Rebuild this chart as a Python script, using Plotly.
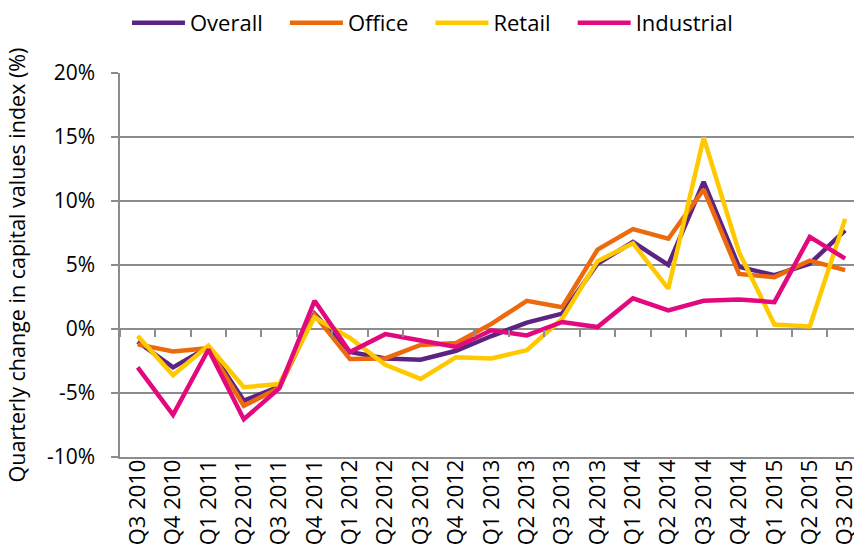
import plotly.graph_objects as go

quarters = ["Q3 2010", "Q4 2010", "Q1 2011", "Q2 2011", "Q3 2011", "Q4 2011",
            "Q1 2012", "Q2 2012", "Q3 2012", "Q4 2012", "Q1 2013", "Q2 2013",
            "Q3 2013", "Q4 2013", "Q1 2014", "Q2 2014", "Q3 2014", "Q4 2014",
            "Q1 2015", "Q2 2015", "Q3 2015"]

overall = [-1.0, -3.0, -1.4, -5.6, -4.5, 1.2, -1.8, -2.3, -2.4, -1.7, -0.55,
           0.5, 1.2, 5.1, 6.8, 5.0, 11.5, 4.85, 4.2, 5.1, 7.7]
office = [-1.2, -1.75, -1.5, -6.0, -4.6, 1.1, -2.35, -2.3, -1.25, -1.1, 0.4,
          2.2, 1.7, 6.2, 7.8, 7.05, 10.9, 4.3, 4.05, 5.35, 4.6]
retail = [-0.55, -3.6, -1.3, -4.55, -4.3, 0.9, -0.7, -2.8, -3.9, -2.2, -2.3,
          -1.65, 0.8, 5.3, 6.7, 3.15, 14.95, 6.0, 0.35, 0.2, 8.6]
industrial = [-3.0, -6.7, -1.6, -7.05, -4.65, 2.2, -1.8, -0.4, -0.9, -1.4, -0.1,
              -0.5, 0.55, 0.15, 2.4, 1.45, 2.2, 2.3, 2.1, 7.2, 5.5]

series_names = ["Overall", "Office", "Retail", "Industrial"]
series_values = [overall, office, retail, industrial]
series_colors = ["#5B2483", "#EC6A0C", "#FFC900", "#E2097E"]

y_ticks = [-10, -5, 0, 5, 10, 15, 20]
y_tick_labels = [f"{v}%" for v in y_ticks]

FONT = "Open Sans"
GRID = "#8C8C8C"
PAD = "\u00a0\u00a0\u00a0"

fig = go.Figure()
for name, vals, col in zip(series_names, series_values, series_colors):
    fig.add_trace(go.Scatter(
        x=list(range(len(quarters))), y=vals, name=name + PAD, mode="lines",
        line=dict(color=col, width=4.5), xaxis="x", yaxis="y",
    ))

# dummy trace for the tick-mark axis at 0%
fig.add_trace(go.Scatter(x=[0], y=[None], xaxis="x2", yaxis="y",
                         showlegend=False, hoverinfo="skip", mode="lines"))

x_range = [-0.5, 20.25]

fig.update_layout(
    width=854, height=554,
    margin=dict(l=120, r=0, t=73, b=97, autoexpand=False),
    paper_bgcolor="white", plot_bgcolor="white",
    font=dict(family=FONT, color="#000000"),
    showlegend=True,
    legend=dict(
        orientation="h", x=0.0095, xanchor="left", y=1 - 23 / 554,
        yref="container", yanchor="middle",
        font=dict(size=22, family=FONT),
        itemwidth=53, traceorder="normal",
        bgcolor="rgba(0,0,0,0)",
    ),
    xaxis=dict(
        range=x_range, tickmode="array",
        tickvals=list(range(len(quarters))), ticktext=quarters,
        tickangle=-90, tickfont=dict(size=22, family=FONT),
        ticklabelstandoff=-8, ticklabeloverflow="allow",
        showgrid=False, zeroline=False, ticks="",
        showline=True, linecolor=GRID, linewidth=1.5,
        automargin=False, fixedrange=True,
    ),
    xaxis2=dict(
        overlaying="x", anchor="free", position=1/3, side="bottom",
        range=x_range, tick0=0.5, dtick=1, ticks="outside", ticklen=7,
        tickwidth=1.5, tickcolor=GRID, showticklabels=False,
        showgrid=False, zeroline=False, showline=False, automargin=False,
    ),
    yaxis=dict(
        range=[-10, 20], tickmode="array", tickvals=y_ticks,
        ticktext=y_tick_labels, tickfont=dict(size=21, family=FONT),
        ticklabelstandoff=12,
        showgrid=True, gridcolor=GRID, gridwidth=1.5,
        zeroline=False, ticks="outside", ticklen=7, tickwidth=1.5,
        tickcolor=GRID, showline=True, linecolor=GRID, linewidth=1.5,
        title=dict(text="Quarterly change in capital values index (%)",
                   font=dict(size=21.5, family=FONT), standoff=15),
        automargin=False, fixedrange=True,
    ),
)

fig.write_html("out.html", config={"displayModeBar": False},
               post_script="document.body.style.margin='0';")
